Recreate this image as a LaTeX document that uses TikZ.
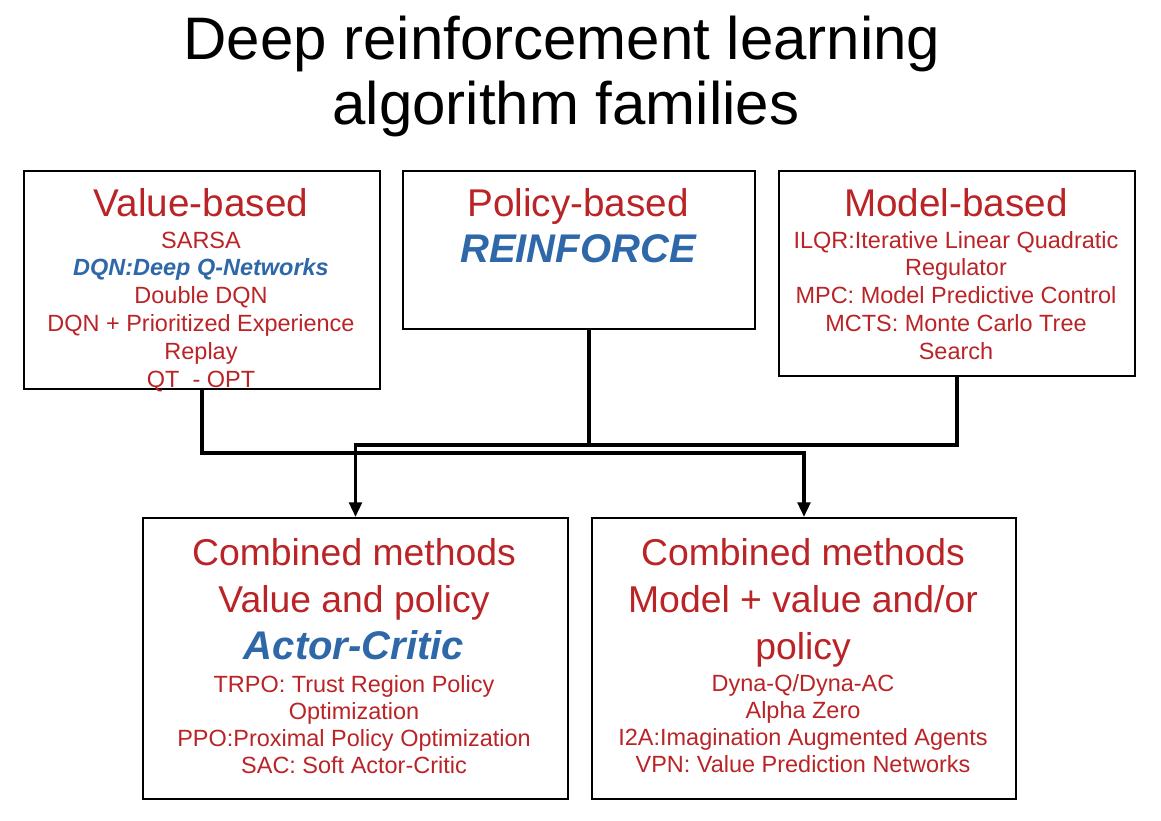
\documentclass[tikz,border=0pt]{standalone}
\usepackage{fontspec}
\setmainfont{Liberation Sans}
\usetikzlibrary{arrows.meta}

\definecolor{famred}{RGB}{186,36,38}
\definecolor{famblue}{RGB}{46,104,168}

\tikzset{
  fambox/.style={draw=black, line width=1.5pt, anchor=north west, inner sep=0pt},
  bigtitle/.style={font=\fontsize{45}{54}\selectfont, anchor=base, inner sep=0pt},
  famhead/.style={font=\fontsize{29}{34}\selectfont, text=famred, anchor=base, inner sep=0pt},
  combhead/.style={font=\fontsize{28}{34}\selectfont, text=famred, anchor=base, inner sep=0pt},
  bluehead/.style={font=\fontsize{30}{36}\selectfont\bfseries\itshape, text=famblue, anchor=base, inner sep=0pt},
  famitem/.style={font=\fontsize{17.6}{21}\selectfont, text=famred, anchor=base, inner sep=0pt},
  conn/.style={line width=2.5pt, -{Triangle[length=11pt,width=9.5pt]}},
  connline/.style={line width=2.5pt}
}

\begin{document}
\begin{tikzpicture}[x=0.75pt,y=-0.75pt]
\useasboundingbox[fill=white] (0,0) rectangle (1161,821);

% title
\node[bigtitle] (title1) at (562,59) {Deep reinforcement learning};
\node[bigtitle] (title2) at (566,124) {algorithm families};

% boxes
\node[fambox, minimum width=267pt, minimum height=163.5pt] (value) at (23,170) {};
\node[fambox, minimum width=264pt, minimum height=118.5pt] (policy) at (402,170) {};
\node[fambox, minimum width=267pt, minimum height=153.75pt] (model) at (778,170) {};
\node[fambox, minimum width=318.75pt, minimum height=210.75pt] (combL) at (142,517) {};
\node[fambox, minimum width=318pt, minimum height=210.75pt] (combR) at (591,517) {};

% value-based
\node[famhead] (valuehead) at (201,216) {Value-based};
\foreach \t [count=\i] in {SARSA,
    {\bfseries\itshape\color{famblue}DQN:Deep Q-Networks},
    Double DQN, DQN + Prioritized Experience, Replay, QT~~- OPT}
  \node[famitem] (val\i) at (201,{248+27.8*(\i-1)}) {\t};

% policy-based
\node[famhead] (policyhead) at (578,216) {Policy-based};
\node[bluehead] (reinforce) at (578,262) {REINFORCE};

% model-based
\node[famhead] (modelhead) at (956,216) {Model-based};
\foreach \t [count=\i] in {ILQR:Iterative Linear Quadratic, Regulator,
    MPC: Model Predictive Control, MCTS: Monte Carlo Tree, Search}
  \node[famitem] (mod\i) at (956,{248+27.8*(\i-1)}) {\t};

% combined: value and policy
\node[combhead] (acl1) at (354,565) {Combined methods};
\node[combhead] (acl2) at (354,612) {Value and policy};
\node[bluehead] (actorcritic) at (354,659) {Actor-Critic};
\foreach \t [count=\i] in {TRPO: Trust Region Policy, Optimization,
    PPO:Proximal Policy Optimization, SAC: Soft Actor-Critic}
  \node[famitem] (ac\i) at (354,{692+27.3*(\i-1)}) {\t};

% combined: model + value/policy
\node[combhead] (mbl1) at (803,565) {Combined methods};
\node[combhead] (mbl2) at (803,612) {Model + value and/or};
\node[combhead] (mbl3) at (803,659) {policy};
\foreach \t [count=\i] in {Dyna-Q/Dyna-AC, Alpha Zero,
    I2A:Imagination Augmented Agents, VPN: Value Prediction Networks}
  \node[famitem] (mb\i) at (803,{691+27.3*(\i-1)}) {\t};

% connectors
\coordinate (upper) at (589,445);
\draw[conn] (value.south) -- ++(0,63) -| (combR.north);
\draw[conn] (model.south) -- (model.south |- upper) -| (combL.north);
\draw[connline] (policy.south -| upper) -- (upper);
\end{tikzpicture}
\end{document}
